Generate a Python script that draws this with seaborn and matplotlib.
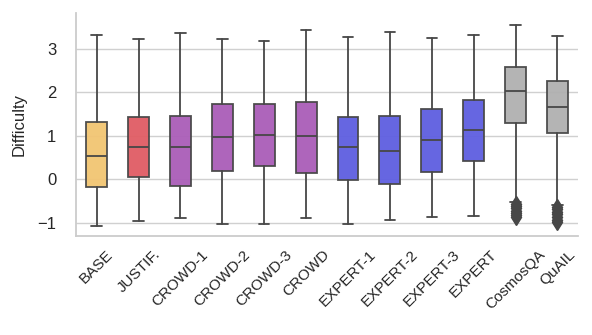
import matplotlib
matplotlib.use("Agg")
import matplotlib.pyplot as plt
import seaborn as sns

sns.set_theme(style="whitegrid")
plt.rcParams['font.family'] = ['Liberation Sans', 'DejaVu Sans']

# Box statistics
labels = ['BASE', 'JUSTIF.', 'CROWD-1', 'CROWD-2', 'CROWD-3', 'CROWD',
          'EXPERT-1', 'EXPERT-2', 'EXPERT-3', 'EXPERT', 'CosmosQA', 'QuAIL']
whis_lo = [-1.07, -0.96, -0.88, -1.03, -1.03, -0.89, -1.03, -0.94, -0.86, -0.85, -0.52, -0.60]
q1 = [-0.17, 0.05, -0.15, 0.18, 0.30, 0.15, -0.02, -0.10, 0.16, 0.41, 1.30, 1.07]
med = [0.54, 0.74, 0.74, 0.97, 1.01, 1.00, 0.74, 0.66, 0.90, 1.13, 2.03, 1.66]
q3 = [1.32, 1.43, 1.46, 1.73, 1.73, 1.77, 1.43, 1.45, 1.62, 1.82, 2.58, 2.27]
whis_hi = [3.33, 3.23, 3.38, 3.24, 3.18, 3.43, 3.27, 3.40, 3.26, 3.33, 3.56, 3.31]
outliers = {
    'CosmosQA': [-0.57, -0.62, -0.67, -0.72, -0.77, -0.82, -0.86],
    'QuAIL': [-0.64, -0.69, -0.75, -0.81, -0.87, -0.93, -0.98],
}
colors = ['#f2c572', '#e05c64', '#aa5db8', '#aa5db8', '#aa5db8', '#aa5db8',
          '#5e5ee0', '#5e5ee0', '#5e5ee0', '#5e5ee0', '#b0b0b0', '#b0b0b0']

stats = []
for i, lab in enumerate(labels):
    stats.append({'label': lab, 'whislo': whis_lo[i], 'q1': q1[i], 'med': med[i],
                  'q3': q3[i], 'whishi': whis_hi[i], 'fliers': outliers.get(lab, [])})

fig, ax = plt.subplots(figsize=(5.92, 3.35), dpi=100)
edge = '#474747'
bp = ax.bxp(stats, positions=range(len(labels)), widths=0.5, patch_artist=True,
            capwidths=0.25,
            boxprops=dict(edgecolor=edge, linewidth=1.3),
            whiskerprops=dict(color=edge, linewidth=1.3),
            capprops=dict(color=edge, linewidth=1.3),
            medianprops=dict(color=edge, linewidth=1.3),
            flierprops=dict(marker='d', markerfacecolor=edge, markeredgecolor=edge,
                            markersize=8))
for patch, c in zip(bp['boxes'], colors):
    patch.set_facecolor(c)
    patch.set_alpha(0.95)
    patch.set_edgecolor(edge)

ax.set_xlim(-0.5, 11.5)
ax.set_ylim(-1.31, 3.82)
ax.set_yticks([-1, 0, 1, 2, 3])
ax.set_ylabel('Difficulty', fontsize=12, labelpad=8)
ax.tick_params(axis='y', labelsize=12, pad=8)
ax.set_xticks(range(len(labels)))
ax.set_xticklabels(labels, rotation=45, fontsize=11)
ax.tick_params(axis='x', pad=2)
ax.xaxis.grid(False)
ax.yaxis.grid(True, color='#d0d0d0', linewidth=1)
sns.despine(ax=ax)
for s in ['left', 'bottom']:
    ax.spines[s].set_color('#cccccc')
    ax.spines[s].set_linewidth(1.3)

fig.subplots_adjust(left=0.128, right=0.977, top=0.96, bottom=0.295)
fig.savefig('out.png', dpi=100)
